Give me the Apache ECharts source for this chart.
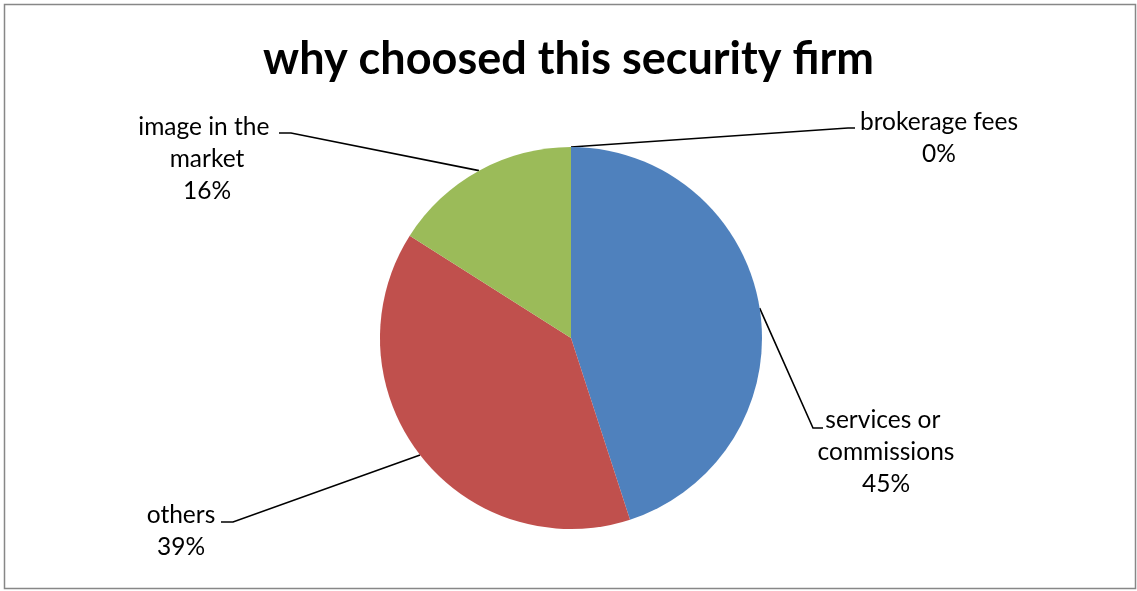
<!DOCTYPE html>
<html>
<head>
<meta charset="utf-8">
<title>why choosed this security firm</title>
<script src="https://cdn.jsdelivr.net/npm/echarts@6/dist/echarts.min.js"></script>
<style>
  html, body { margin: 0; padding: 0; background: #fff; }
  #chart { width: 1137px; height: 591px; }
</style>
</head>
<body>
<div id="chart"></div>
<script>
// Survey answers: reasons for choosing the security firm (percent of respondents)
const titleText = 'why choosed this security firm';
const categories = ['brokerage fees', 'services or commissions', 'others', 'image in the market'];
const shares = [0, 45, 39, 16];
const sliceColors = ['#F79646', '#4F81BD', '#C0504D', '#9BBB59'];

// Where each callout sits: label block (center x, top y) and the bend of its leader line
const labelSpots = [
  { x: 939, y: 106, wrap: 260, bend: [[848, 128], [855, 128]] },
  { x: 886, y: 404, wrap: 170, bend: [[813, 428], [823, 428]] },
  { x: 181, y: 499, wrap: 260, bend: [[233, 522], [221, 522]] },
  { x: 207, y: 111, wrap: 170, bend: [[291, 133], [279, 133]] }
];

const FONT = 'Lato, "Open Sans", "Noto Sans", sans-serif';

const chart = echarts.init(document.getElementById('chart'), null, { renderer: 'canvas' });

chart.setOption({
  backgroundColor: '#ffffff',
  animation: false,
  title: {
    text: titleText,
    left: 'center',
    top: 32,
    textStyle: { fontFamily: FONT, fontSize: 45, fontWeight: 'bold', color: '#000' }
  },
  graphic: [{
    type: 'rect',
    shape: { x: 4.5, y: 4.5, width: 1131, height: 584 },
    style: { fill: null, stroke: '#878787', lineWidth: 1.5 },
    silent: true
  }],
  series: [{
    type: 'pie',
    center: [571, 338],
    radius: 191,
    startAngle: 90,
    clockwise: true,
    avoidLabelOverlap: false,
    itemStyle: { borderWidth: 0 },
    label: {
      show: true,
      formatter: '{b}\n{d}%',
      fontFamily: FONT,
      fontSize: 24.5,
      lineHeight: 32,
      color: '#000',
      align: 'center',
      overflow: 'break'
    },
    labelLine: {
      show: true,
      length: 20,
      length2: 10,
      lineStyle: { color: '#000', width: 1.6 }
    },
    labelLayout: function (params) {
      const spot = labelSpots[params.dataIndex];
      const start = params.labelLinePoints ? params.labelLinePoints[0] : spot.bend[0];
      return {
        x: spot.x,
        y: spot.y,
        align: 'center',
        verticalAlign: 'top',
        labelLinePoints: [start, spot.bend[0], spot.bend[1]]
      };
    },
    data: categories.map((name, i) => ({
      name: name,
      value: shares[i],
      itemStyle: { color: sliceColors[i] },
      label: { width: labelSpots[i].wrap }
    }))
  }]
});
</script>
</body>
</html>
